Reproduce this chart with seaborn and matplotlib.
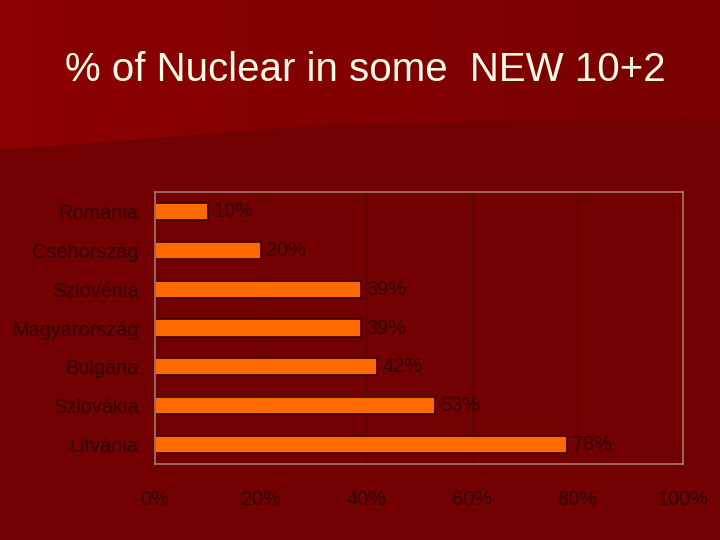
import matplotlib
matplotlib.use("Agg")
import matplotlib.pyplot as plt
import numpy as np
import pandas as pd
import seaborn as sns
from matplotlib.patches import Polygon

countries = ['Románia', 'Csehország', 'Szlovénia', 'Magyarország', 'Bulgária', 'Szlovákia', 'Litvánia']
nuclear_pct = [10, 20, 39, 39, 42, 53, 78]
xticks = [0, 20, 40, 60, 80, 100]

df = pd.DataFrame({'country': countries, 'pct': nuclear_pct})

sns.set_style('white')
plt.rcParams['font.family'] = ['Liberation Sans', 'DejaVu Sans']

fig = plt.figure(figsize=(7.2, 5.4), dpi=100)
fig.patch.set_facecolor('#720000')

# lighter slanted band at the top of the slide
bg = fig.add_axes([0, 0, 1, 1], zorder=-1)
bg.set_xlim(0, 1)
bg.set_ylim(0, 1)
bg.axis('off')
grad = np.linspace(1, 0, 256).reshape(1, -1)
img = bg.imshow(grad, extent=[0, 1, 0, 1], aspect='auto',
                cmap=matplotlib.colors.LinearSegmentedColormap.from_list('r', ['#780000', '#8c0000']))
band = Polygon([[0, 1], [1, 1], [1, 1 - 118 / 540], [0.45, 1 - 125 / 540], [0, 1 - 150 / 540]],
               closed=True, transform=bg.transAxes, facecolor='none', edgecolor='none')
bg.add_patch(band)
img.set_clip_path(band)

fig.text(0.508, 1 - 70 / 540, '% of Nuclear in some  NEW 10+2', ha='center', va='center',
         color='#fffbe6', fontsize=29)

ax = fig.add_axes([155 / 720, 76 / 540, 528 / 720, 272 / 540])
ax.set_facecolor('#720000')
sns.barplot(data=df, x='pct', y='country', orient='h', color='#ff6a00',
            edgecolor='#3a0000', linewidth=1.2, width=0.44, saturation=1, ax=ax)

for c in ax.containers:
    ax.bar_label(c, labels=[f'{v}%' for v in nuclear_pct], padding=4,
                 color='#320000', fontsize=14.3)

ax.set_xlim(0, 100)
ax.set_xticks(xticks)
ax.set_xticklabels([f'{t}%' for t in xticks])
ax.set_xlabel('')
ax.set_ylabel('')
ax.tick_params(axis='x', length=0, pad=19, labelsize=14.3, labelcolor='#320000')
ax.tick_params(axis='y', length=0, pad=12, labelsize=14.3, labelcolor='#320000')
ax.xaxis.grid(True, color='#5a0000', linewidth=1)
ax.set_axisbelow(True)
for s in ax.spines.values():
    s.set_visible(True)
    s.set_color('#a87878')
    s.set_linewidth(1.2)

fig.savefig('out.png', dpi=100, facecolor=fig.get_facecolor())
